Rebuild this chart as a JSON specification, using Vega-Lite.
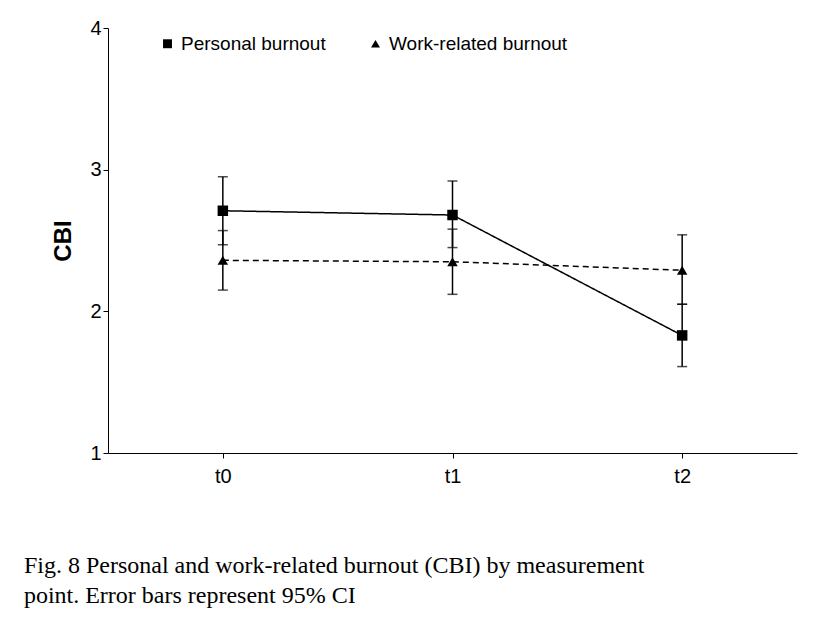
{
  "$schema": "https://vega.github.io/schema/vega-lite/v6.json",
  "width": 689,
  "height": 425,
  "autosize": "none",
  "padding": {"left": 108, "top": 28, "right": 24, "bottom": 177},
  "background": "white",
  "title": {
    "text": ["Fig. 8 Personal and work-related burnout (CBI) by measurement", "point. Error bars represent 95% CI"],
    "orient": "bottom",
    "anchor": "start",
    "dx": -28,
    "offset": 68,
    "font": "Liberation Serif",
    "fontSize": 24,
    "fontWeight": "normal",
    "lineHeight": 30,
    "color": "black"
  },
  "data": {
    "values": [
      {"point": "t0", "series": "Personal burnout", "mean": 2.71, "lo": 2.47, "hi": 2.95},
      {"point": "t1", "series": "Personal burnout", "mean": 2.68, "lo": 2.45, "hi": 2.92},
      {"point": "t2", "series": "Personal burnout", "mean": 1.83, "lo": 1.61, "hi": 2.05},
      {"point": "t0", "series": "Work-related burnout", "mean": 2.36, "lo": 2.15, "hi": 2.57},
      {"point": "t1", "series": "Work-related burnout", "mean": 2.35, "lo": 2.12, "hi": 2.58},
      {"point": "t2", "series": "Work-related burnout", "mean": 2.29, "lo": 2.05, "hi": 2.54}
    ]
  },
  "encoding": {
    "x": {"field": "point", "type": "ordinal", "scale": {"type": "point", "padding": 0.5},
      "axis": {"title": null, "labelAngle": 0, "labelFont": "Liberation Sans", "labelFontSize": 20, "labelPadding": 8, "domainColor": "black", "tickColor": "black", "labelColor": "black", "grid": false}},
    "y": {"field": "mean", "type": "quantitative", "scale": {"domain": [1, 4]},
      "axis": {"title": "CBI", "values": [1, 2, 3, 4], "titleFont": "Liberation Sans", "titleFontSize": 24, "titleFontWeight": "bold", "titlePadding": 14, "labelFont": "Liberation Sans", "labelFontSize": 20, "labelColor": "black", "domainColor": "black", "tickColor": "black", "titleColor": "black", "grid": false}}
  },
  "layer": [
    {
      "mark": {"type": "errorbar", "ticks": {"size": 10, "color": "black"}, "color": "black", "thickness": 1.5},
      "encoding": {"y": {"field": "lo", "type": "quantitative"}, "y2": {"field": "hi"}}
    },
    {
      "mark": {"type": "line", "color": "black", "strokeWidth": 1.5},
      "encoding": {"detail": {"field": "series"},
        "strokeDash": {"field": "series", "type": "nominal", "scale": {"range": [[1, 0], [6, 4]]}, "legend": null}}
    },
    {
      "mark": {"type": "point", "filled": true, "color": "black", "opacity": 1, "size": 110},
      "encoding": {"shape": {"field": "series", "type": "nominal", "scale": {"range": ["square", "triangle-up"]},
        "legend": {"title": null, "orient": "none", "legendX": 50, "legendY": 6, "direction": "horizontal", "labelFont": "Liberation Sans", "labelFontSize": 19, "labelColor": "black", "labelLimit": 300, "columnPadding": 40, "symbolSize": 80, "symbolFillColor": "black", "symbolStrokeColor": "black"}}}
    }
  ],
  "config": {"view": {"stroke": null}, "axisY": {"domain": true}}
}
